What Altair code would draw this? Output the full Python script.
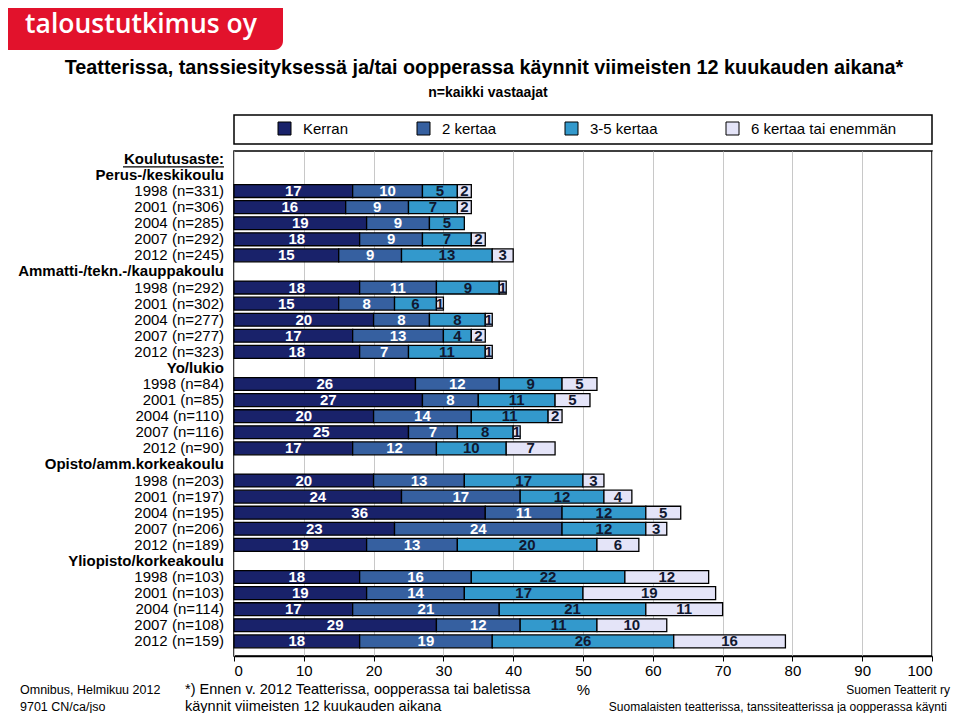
import altair as alt
import pandas as pd

# ---------------- data ----------------
series = ["Kerran", "2 kertaa", "3-5 kertaa", "6 kertaa tai enemmän"]
colors = ["#19226a", "#3660a0", "#3399cc", "#e4e4f8"]

section_title = "Koulutusaste:"
groups = ["Perus-/keskikoulu", "Ammatti-/tekn.-/kauppakoulu", "Yo/lukio",
          "Opisto/amm.korkeakoulu", "Yliopisto/korkeakoulu"]
years = ["1998", "2001", "2004", "2007", "2012"]
n_values = [[331, 306, 285, 292, 245],
            [292, 302, 277, 277, 323],
            [84, 85, 110, 116, 90],
            [203, 197, 195, 206, 189],
            [103, 103, 114, 108, 159]]
kerran = [[17, 16, 19, 18, 15],
          [18, 15, 20, 17, 18],
          [26, 27, 20, 25, 17],
          [20, 24, 36, 23, 19],
          [18, 19, 17, 29, 18]]
kaksi = [[10, 9, 9, 9, 9],
         [11, 8, 8, 13, 7],
         [12, 8, 14, 7, 12],
         [13, 17, 11, 24, 13],
         [16, 14, 21, 12, 19]]
kolme_viisi = [[5, 7, 5, 7, 13],
               [9, 6, 8, 4, 11],
               [9, 11, 11, 8, 10],
               [17, 12, 12, 12, 20],
               [22, 17, 21, 11, 26]]
kuusi = [[2, 2, 0, 2, 3],
         [1, 1, 1, 2, 1],
         [5, 5, 2, 1, 7],
         [3, 4, 5, 3, 6],
         [12, 19, 11, 10, 16]]
x_ticks = list(range(0, 101, 10))

title = "Teatterissa, tanssiesityksessä ja/tai oopperassa käynnit viimeisten 12 kuukauden aikana*"
subtitle = "n=kaikki vastaajat"
logo = "taloustutkimus oy"
foot_left = ["Omnibus, Helmikuu 2012", "9701 CN/ca/jso"]
foot_note = ["*) Ennen v. 2012 Teatterissa, oopperassa tai baletissa",
             "käynnit viimeisten 12 kuukauden aikana"]
foot_right = ["Suomen Teatterit ry",
              "Suomalaisten teatterissa, tanssiteatterissa ja oopperassa käynti"]

# ---------------- tables ----------------
all_series = [kerran, kaksi, kolme_viisi, kuusi]
label_rows = [{"row": 0, "label": section_title, "bold": 1}]
bar_rows = []
r = 1
for gi, g in enumerate(groups):
    label_rows.append({"row": r, "label": g, "bold": 1})
    r += 1
    for yi, yr in enumerate(years):
        label_rows.append({"row": r, "label": f"{yr} (n={n_values[gi][yi]})", "bold": 0})
        for si, s in enumerate(series):
            bar_rows.append({"row": r, "cat": s, "k": si, "value": all_series[si][gi][yi]})
        r += 1
n_rows = r
labels_df = pd.DataFrame(label_rows)
bars_df = pd.DataFrame(bar_rows)
dummy = pd.DataFrame({"a": [0]})

FONT = "Liberation Sans"
W, H = 698, 505
PAD = {"left": 226, "top": 143, "right": 19, "bottom": 57}

yscale = alt.Scale(domain=list(range(n_rows)), paddingInner=0.2, paddingOuter=0.3, align=0.15)
xscale = alt.Scale(domain=[0, 100], nice=False)

base = (alt.Chart(bars_df)
        .transform_filter("datum.value > 0")
        .transform_stack(stack="value", groupby=["row"], as_=["x0", "x1"],
                         sort=[alt.SortField("k", order="ascending")]))

bars = base.mark_bar(stroke="black", strokeWidth=1.3).encode(
    x=alt.X("x0:Q", scale=xscale,
            axis=alt.Axis(values=x_ticks, title="%", grid=True, format="d")),
    x2="x1:Q",
    y=alt.Y("row:O", scale=yscale, axis=None),
    color=alt.Color("cat:N", scale=alt.Scale(domain=series, range=colors),
                    legend=alt.Legend(orient="none", legendX=43, legendY=-30,
                                      direction="horizontal", title=None,
                                      symbolType="square", symbolSize=169,
                                      symbolStrokeColor="black", symbolStrokeWidth=1,
                                      labelFontSize=15, labelFont=FONT, labelColor="black",
                                      labelOffset=11, columnPadding=66)),
)

bar_text = base.transform_calculate(xm="(datum.x0 + datum.x1) / 2").mark_text(
    fontWeight="bold", fontSize=15, font=FONT, baseline="middle", align="center"
).encode(
    x=alt.X("xm:Q", scale=xscale),
    y=alt.Y("row:O", scale=yscale, axis=None),
    text="value:Q",
    color=alt.condition("datum.k < 2", alt.value("white"), alt.value("#111830")),
)

lab_normal = alt.Chart(labels_df).transform_filter("datum.bold == 0").mark_text(
    align="right", baseline="middle", fontSize=15, font=FONT, color="black"
).encode(y=alt.Y("row:O", scale=yscale, axis=None), x=alt.value(-10), text="label:N")

lab_bold = alt.Chart(labels_df).transform_filter("datum.bold == 1").mark_text(
    align="right", baseline="middle", fontSize=15, font=FONT, fontWeight="bold", color="black"
).encode(y=alt.Y("row:O", scale=yscale, axis=None), x=alt.value(-10), text="label:N")

underline = alt.Chart(labels_df).transform_filter("datum.row == 0").mark_rule(
    color="black", strokeWidth=1.2, yOffset=8
).encode(y=alt.Y("row:O", scale=yscale, axis=None), x=alt.value(-111), x2=alt.value(-10))

legend_box = alt.Chart(dummy).mark_rect(fillOpacity=0, stroke="black", strokeWidth=1.5).encode(
    x=alt.value(0), x2=alt.value(W), y=alt.value(-36), y2=alt.value(-7))

logo_box = alt.Chart(dummy).mark_rect(color="#e2122c", cornerRadiusBottomRight=9).encode(
    x=alt.value(-226), x2=alt.value(49), y=alt.value(-143), y2=alt.value(-101))


def txt(s, x, y, size, weight="normal", align="left", color="black", font=FONT):
    return alt.Chart(dummy).mark_text(
        text=s, fontSize=size, fontWeight=weight, align=align, baseline="middle",
        color=color, font=font
    ).encode(x=alt.value(x), y=alt.value(y))


annots = [
    txt(logo, -93, -126, 26.5, weight=600, align="center", color="white", font="Open Sans"),
    txt(title, 250, -83, 19.8, weight="bold", align="center"),
    txt(subtitle, 254, -58, 14, weight="bold", align="center"),
    txt(foot_left[0], -214, 539, 12.5),
    txt(foot_left[1], -214, 556, 12.5),
    txt(foot_note[0], -49, 539, 14.5),
    txt(foot_note[1], -49, 556, 14.5),
    txt(foot_right[0], 716, 539, 12, align="right"),
    txt(foot_right[1], 713, 556, 12, align="right"),
]

chart = alt.layer(logo_box, legend_box, bars, bar_text, lab_normal, lab_bold, underline,
                  *annots).properties(
    width=W, height=H,
    autosize=alt.AutoSizeParams(type="none"),
    padding=PAD,
    background="white",
).configure_view(stroke="black", strokeWidth=1.5).configure_axis(
    labelFont=FONT, labelFontSize=15, labelColor="black", labelPadding=2,
    tickColor="black", tickSize=5, domainColor="black", domainWidth=1.5,
    gridColor="#c8c8c8", gridWidth=1,
    titleFont=FONT, titleFontSize=15, titleFontWeight="normal", titleColor="black",
    titlePadding=4,
)

chart.save("out.html", embed_options={"renderer": "svg", "actions": False})
